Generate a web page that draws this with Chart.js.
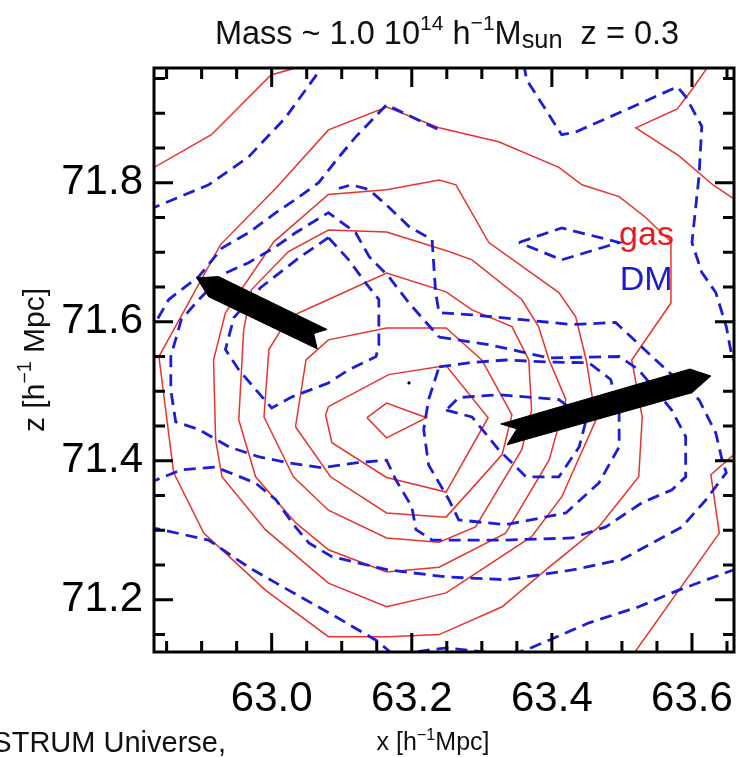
<!DOCTYPE html>
<html><head><meta charset="utf-8">
<script src="https://cdn.jsdelivr.net/npm/chart.js@4.4.0/dist/chart.umd.min.js"></script>
<style>html,body{margin:0;padding:0;background:#fff;}#wrap{width:738px;height:757px;position:relative;overflow:hidden}</style>
</head><body><div id="wrap"><canvas id="c" width="738" height="757"></canvas></div>
<script>
// ---- axis definitions ----
const xTicks = [63.0, 63.2, 63.4, 63.6];
const yTicks = [71.2, 71.4, 71.6, 71.8];
const xRange = [62.832, 63.660];
const yRange = [71.125, 71.965];

// ---- gas (red, solid) contours [x, z] ----
const gasR1 = [[62.820,71.815],[62.914,71.869],[62.999,71.955],[63.034,71.965],[63.06,71.97]];
const gasTopRight = [[63.625,71.970],[63.600,71.934],[63.579,71.906],[63.520,71.879],[63.581,71.839],[63.631,71.796],[63.670,71.770]];
const gasBottomRight = [[63.670,71.418],[63.627,71.380],[63.639,71.296],[63.515,71.120]];
const gas1 = [[62.839,71.550],[62.927,71.711],[63.007,71.793],[63.081,71.876],[63.164,71.909],[63.239,71.879],[63.324,71.859],[63.410,71.822],[63.443,71.797],[63.496,71.780],[63.534,71.750],[63.570,71.715],[63.570,71.627],[63.514,71.545],[63.529,71.463],[63.524,71.377],[63.467,71.305],[63.396,71.247],[63.329,71.190],[63.239,71.150],[63.167,71.147],[63.081,71.147],[62.991,71.214],[62.903,71.296],[62.860,71.383],[62.839,71.550]];
const gas2 = [[62.920,71.430],[62.917,71.545],[62.934,71.613],[63.003,71.715],[63.081,71.783],[63.164,71.790],[63.239,71.804],[63.263,71.797],[63.310,71.714],[63.410,71.642],[63.434,71.607],[63.449,71.545],[63.463,71.459],[63.414,71.348],[63.371,71.291],[63.249,71.210],[63.164,71.190],[63.081,71.224],[62.991,71.301],[62.929,71.377],[62.920,71.430]];
const gas3 = [[62.953,71.459],[62.960,71.588],[62.971,71.646],[63.024,71.701],[63.081,71.732],[63.164,71.729],[63.253,71.701],[63.286,71.689],[63.357,71.632],[63.381,71.593],[63.396,71.545],[63.420,71.488],[63.396,71.401],[63.334,71.296],[63.239,71.247],[63.164,71.240],[63.081,71.272],[63.034,71.311],[62.977,71.377],[62.953,71.459]];
const gas4 = [[62.989,71.463],[62.996,71.560],[63.024,71.606],[63.081,71.632],[63.164,71.670],[63.249,71.643],[63.286,71.617],[63.343,71.593],[63.367,71.545],[63.371,71.473],[63.357,71.416],[63.291,71.305],[63.239,71.283],[63.164,71.289],[63.081,71.329],[63.031,71.377],[62.989,71.463]];
const gas5 = [[63.034,71.449],[63.049,71.545],[63.081,71.574],[63.164,71.591],[63.249,71.591],[63.300,71.545],[63.343,71.466],[63.329,71.409],[63.249,71.319],[63.164,71.325],[63.084,71.377],[63.034,71.449]];
const gas6 = [[63.081,71.478],[63.167,71.524],[63.249,71.537],[63.309,71.462],[63.249,71.355],[63.164,71.376],[63.086,71.426],[63.077,71.466],[63.081,71.478]];
const gas7 = [[63.136,71.462],[63.164,71.483],[63.221,71.462],[63.164,71.433],[63.136,71.462]];

// ---- DM (blue, dashed) contours [x, z] ----
const dm1 = [[62.824,71.761],[62.910,71.797],[62.967,71.837],[63.020,71.894],[63.071,71.965],[63.081,71.980]];
const dm2 = [[62.824,71.581],[62.853,71.632],[62.896,71.665],[62.929,71.706],[62.967,71.728],[63.006,71.757],[63.034,71.776],[63.067,71.800],[63.096,71.837],[63.120,71.866],[63.164,71.912],[63.239,71.876]];
const dm3 = [[63.239,71.578],[63.310,71.567],[63.396,71.548],[63.496,71.550],[63.524,71.531],[63.571,71.473],[63.591,71.435],[63.591,71.377],[63.571,71.358],[63.529,71.340],[63.477,71.305],[63.429,71.289],[63.334,71.286],[63.249,71.286],[63.229,71.286],[63.206,71.301],[63.200,71.334],[63.177,71.373],[63.164,71.401],[63.120,71.397],[63.071,71.390],[63.024,71.397],[62.981,71.406],[62.939,71.420],[62.896,71.445],[62.863,71.456],[62.856,71.502],[62.856,71.550],[62.871,71.603],[62.896,71.632],[62.934,71.670],[62.967,71.685],[63.006,71.708],[63.034,71.728],[63.081,71.757],[63.120,71.728],[63.139,71.694],[63.167,71.665],[63.196,71.627],[63.239,71.578]];
const dm4 = [[62.824,71.368],[62.871,71.387],[62.920,71.391],[62.977,71.368],[63.006,71.344],[63.029,71.311],[63.053,71.282],[63.086,71.262],[63.167,71.243],[63.249,71.233],[63.334,71.229],[63.429,71.243],[63.500,71.258],[63.586,71.305],[63.620,71.344],[63.649,71.383],[63.643,71.401],[63.634,71.440],[63.610,71.488],[63.543,71.550],[63.491,71.599],[63.429,71.596],[63.357,71.603],[63.286,71.610],[63.239,71.613],[63.234,71.642],[63.229,71.718],[63.196,71.737],[63.167,71.765],[63.139,71.790],[63.114,71.797],[63.096,71.792]];
const dm5 = [[62.824,71.305],[62.910,71.286],[62.967,71.247],[63.024,71.214],[63.091,71.176],[63.149,71.142],[63.174,71.121],[63.249,71.131],[63.339,71.121],[63.363,71.128],[63.396,71.142],[63.453,71.167],[63.524,71.190],[63.581,71.214],[63.667,71.246]];
const dm6 = [[63.360,71.970],[63.364,71.948],[63.414,71.869],[63.434,71.873],[63.506,71.905],[63.579,71.938],[63.591,71.924],[63.614,71.881],[63.610,71.809],[63.600,71.714],[63.614,71.671],[63.634,71.642],[63.649,71.593],[63.657,71.550],[63.667,71.531]];
const dm7 = [[63.353,71.714],[63.414,71.735],[63.496,71.714],[63.414,71.689],[63.353,71.714]];
const dm8 = [[63.081,71.721],[63.110,71.689],[63.134,71.656],[63.153,71.632],[63.153,71.567],[63.149,71.550],[63.110,71.531],[63.081,71.512],[63.029,71.492],[63.000,71.476],[62.981,71.498],[62.953,71.531],[62.934,71.560],[62.946,71.606],[62.984,71.649],[63.039,71.692],[63.081,71.721]];
const dm9 = [[63.239,71.535],[63.281,71.541],[63.334,71.545],[63.396,71.542],[63.453,71.541],[63.484,71.517],[63.496,71.469],[63.496,71.420],[63.467,71.368],[63.420,71.325],[63.334,71.308],[63.267,71.315],[63.253,71.344],[63.224,71.394],[63.217,71.445],[63.224,71.488],[63.239,71.535]];
const dm10 = [[63.249,71.473],[63.286,71.463],[63.324,71.416],[63.363,71.377],[63.410,71.377],[63.439,71.420],[63.449,71.459],[63.410,71.488],[63.324,71.495],[63.267,71.491],[63.249,71.473]];

// ---- arrows and marker ----
const arrowLeft = [[62.893,71.663],[62.924,71.665],[63.079,71.589],[63.060,71.583],[63.065,71.561],[62.910,71.636],[62.893,71.663]];
const arrowRight = [[63.327,71.453],[63.597,71.532],[63.627,71.522],[63.600,71.498],[63.336,71.423],[63.350,71.446],[63.327,71.453]];
const centerDot = [[63.196,71.512]];

const RED = '#e8322c', BLUE = '#1d1dd6';
const gasSets = [gasR1, gasTopRight, gasBottomRight, gas1, gas2, gas3, gas4, gas5, gas6, gas7];
const dmSets = [dm1, dm2, dm3, dm4, dm5, dm6, dm7, dm8, dm9, dm10];
const toPts = a => a.map(p => ({x: p[0], y: p[1]}));

const datasets = [];
[arrowLeft, arrowRight].forEach(a => datasets.push({data: toPts(a), showLine: true, borderColor: '#000', backgroundColor: '#000', borderWidth: 1, pointRadius: 0, fill: 'shape', order: 0}));
datasets.push({data: toPts(centerDot), pointRadius: 1.6, pointBackgroundColor: '#000', pointBorderWidth: 0, showLine: false, order: 0});
dmSets.forEach(a => datasets.push({data: toPts(a), showLine: true, borderColor: BLUE, borderWidth: 2.8, borderDash: [12, 7], pointRadius: 0, fill: false, order: 1}));
gasSets.forEach(a => datasets.push({data: toPts(a), showLine: true, borderColor: RED, borderWidth: 1.5, pointRadius: 0, fill: false, order: 2}));

const FONT = "'Liberation Sans', Arial, Helvetica, sans-serif";

function drawRich(ctx, segs, x, y, size, align) {
  let w = 0;
  segs.forEach(s => { const fs = s.sup || s.sub ? size * (s.scale || 0.65) : size; ctx.font = fs + 'px ' + FONT; s._w = ctx.measureText(s.t).width; s._fs = fs; w += s._w; });
  let cx = align === 'center' ? x - w / 2 : (align === 'right' ? x - w : x);
  ctx.textAlign = 'left'; ctx.textBaseline = 'alphabetic';
  segs.forEach(s => {
    ctx.font = s._fs + 'px ' + FONT;
    const dy = s.sup ? -size * 0.42 : (s.sub ? size * 0.12 : 0);
    ctx.fillText(s.t, cx, y + dy); cx += s._w;
  });
}

const framePlugin = {
  id: 'frame',
  afterDatasetsDraw(chart) {
    const {ctx, chartArea: a, scales} = chart;
    const xs = scales.x, ys = scales.y;
    ctx.save();
    ctx.strokeStyle = '#000'; ctx.lineWidth = 3; ctx.lineCap = 'butt';
    for (let i = Math.ceil(xRange[0] * 20); i <= Math.floor(xRange[1] * 20); i++) {
      const v = i / 20, px = xs.getPixelForValue(v), major = i % 4 === 0, L = major ? 19 : 11;
      ctx.beginPath(); ctx.moveTo(px, a.bottom); ctx.lineTo(px, a.bottom - L); ctx.moveTo(px, a.top); ctx.lineTo(px, a.top + L); ctx.stroke();
    }
    for (let i = Math.ceil(yRange[0] * 20); i <= Math.floor(yRange[1] * 20); i++) {
      const v = i / 20, py = ys.getPixelForValue(v), major = i % 4 === 0, L = major ? 19 : 11;
      ctx.beginPath(); ctx.moveTo(a.left, py); ctx.lineTo(a.left + L, py); ctx.moveTo(a.right, py); ctx.lineTo(a.right - L, py); ctx.stroke();
    }
    ctx.strokeRect(a.left, a.top, a.right - a.left, a.bottom - a.top);
    ctx.font = '34px ' + FONT; ctx.textAlign = 'left'; ctx.textBaseline = 'alphabetic';
    ctx.fillStyle = '#e81c1c'; ctx.fillText('gas', xs.getPixelForValue(63.496), ys.getPixelForValue(71.711));
    ctx.fillStyle = '#1a1ad2'; ctx.fillText('DM', xs.getPixelForValue(63.497), ys.getPixelForValue(71.646));
    ctx.restore();
  },
  afterDraw(chart) {
    const ctx = chart.ctx;
    ctx.save(); ctx.fillStyle = '#111';
    drawRich(ctx, [{t: 'Mass ~ 1.0 10'}, {t: '14', sup: true}, {t: ' h'}, {t: '\u22121', sup: true}, {t: 'M'}, {t: 'sun', sub: true, scale: 0.78}, {t: '  z = 0.3'}], 447, 44, 32.5, 'center');
    drawRich(ctx, [{t: 'x [h'}, {t: '\u22121', sup: true}, {t: 'Mpc]'}], 433, 750, 25, 'center');
    ctx.save(); ctx.translate(44, 360); ctx.rotate(-Math.PI / 2);
    drawRich(ctx, [{t: 'z [h'}, {t: '\u22121', sup: true}, {t: ' Mpc]'}], 0, 0, 30, 'center');
    ctx.restore();
    ctx.font = '29px ' + FONT; ctx.textAlign = 'right'; ctx.textBaseline = 'alphabetic';
    ctx.fillText('MARENOSTRUM Universe,', 226, 752);
    ctx.restore();
  }
};

new Chart(document.getElementById('c'), {
  type: 'scatter',
  data: {datasets},
  options: {
    responsive: false, animation: false, devicePixelRatio: 1,
    layout: {padding: {left: 0, right: 3, top: 68, bottom: 0}},
    plugins: {legend: {display: false}, tooltip: {enabled: false}, title: {display: false}},
    scales: {
      x: {type: 'linear', min: xRange[0], max: xRange[1],
        afterBuildTicks: s => { s.ticks = xTicks.map(v => ({value: v})); },
        afterFit: s => { s.height = 105; s.paddingLeft = 0; s.paddingRight = 0; },
        grid: {display: false, drawTicks: false}, border: {display: false},
        ticks: {color: '#000', font: {family: FONT, size: 42}, padding: 22, maxRotation: 0, autoSkip: false, callback: v => v.toFixed(1)}},
      y: {type: 'linear', min: yRange[0], max: yRange[1],
        afterBuildTicks: s => { s.ticks = yTicks.map(v => ({value: v})); },
        afterFit: s => { s.width = 154; s.paddingTop = 0; s.paddingBottom = 0; },
        grid: {display: false, drawTicks: false}, border: {display: false},
        ticks: {color: '#000', font: {family: FONT, size: 42}, padding: 11, autoSkip: false, callback: v => v.toFixed(1)}}
    }
  },
  plugins: [framePlugin]
});
</script></body></html>
